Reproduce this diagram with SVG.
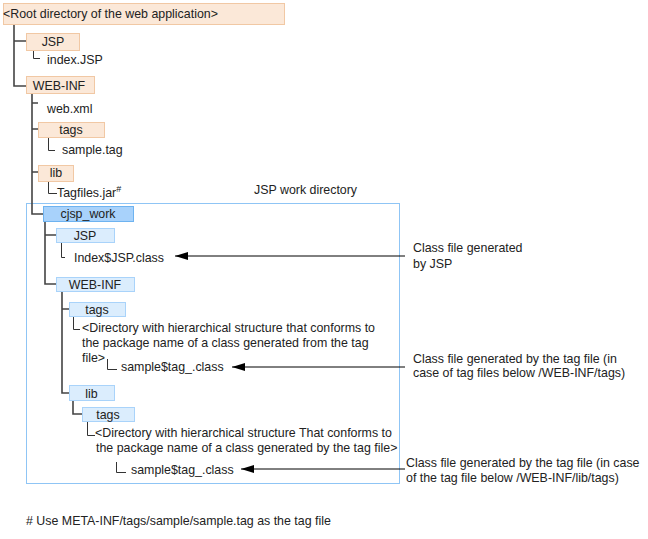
<svg xmlns="http://www.w3.org/2000/svg" width="648" height="539" viewBox="0 0 648 539">
<defs>
<marker id="ah" markerUnits="userSpaceOnUse" markerWidth="13" markerHeight="8" refX="13" refY="4" orient="auto">
<path d="M0,0 L13,4 L0,8 Z" fill="#000"/>
</marker>
<style>
text{font-family:"Liberation Sans",Arial,sans-serif;font-size:12.4px;fill:#222}
.m{text-anchor:middle}
.or{fill:#fbe8d8;stroke:#f1c8a4;stroke-width:1}
.bl{fill:#dbedfd;stroke:#a9d3fa;stroke-width:1}
.dk{fill:#a8d2fb;stroke:#6eb3f0;stroke-width:1}
.tr{fill:none;stroke:#444;stroke-width:1.6}
.lf{fill:none;stroke:#333;stroke-width:1}
.ar{fill:none;stroke:#000;stroke-width:1}
</style>
</defs>
<rect x="26.5" y="203.5" width="373" height="280" fill="none" stroke="#8fc5f5" stroke-width="1"/>
<g id="connectors">
<path class="tr" d="M14,24 V86 H26 M14,41 H26"/>
<path class="lf" d="M33.5,50 V58.5 H40"/>
<path class="tr" d="M32,94 V214 H43 M32,103 H38 M32,129 H38 M32,172 H38"/>
<path class="lf" d="M48.5,137 V150.5 H55 M48.5,181 V193.5 H57"/>
<path class="tr" d="M45,221 V284 H56 M45,235 H56"/>
<path class="lf" d="M61.5,242 V257.5 H65"/>
<path class="tr" d="M62,291 V393 H69 M62,309 H69"/>
<path class="lf" d="M73.5,316 V329.5 H80 M107.5,359 V369.5 H117"/>
<path class="tr" d="M73,400 V414 H82"/>
<path class="lf" d="M87.5,421 V435.5 H95 M116.5,462 V472.5 H126"/>
<line class="ar" x1="405" y1="256" x2="175" y2="256" marker-end="url(#ah)"/>
<line class="ar" x1="405" y1="367" x2="232" y2="367" marker-end="url(#ah)"/>
<line class="ar" x1="405" y1="469" x2="241" y2="469" marker-end="url(#ah)"/>
</g>
<g id="root"><rect class="or" x="3.5" y="3.5" width="281" height="21"/><text x="3" y="17.5">&lt;Root directory of the web application&gt;</text></g>
<g id="jsp"><rect class="or" x="26.5" y="33.5" width="53" height="17"/><text class="m" x="53" y="45.5">JSP</text></g>
<g id="indexjsp"><text x="47" y="63.5">index.JSP</text></g>
<g id="webinf"><rect class="or" x="26.5" y="76.5" width="68" height="17"/><text class="m" x="59" y="89.5">WEB-INF</text></g>
<g id="webxml"><text x="47" y="112.5">web.xml</text></g>
<g id="tags"><rect class="or" x="38.5" y="122.5" width="66" height="15"/><text class="m" x="71" y="133.5">tags</text></g>
<g id="sampletag"><text x="62" y="153.5">sample.tag</text></g>
<g id="lib"><rect class="or" x="38.5" y="165.5" width="35" height="16"/><text class="m" x="56" y="176.5">lib</text></g>
<g id="tagfiles"><text x="57" y="196.5">Tagfiles.jar<tspan font-size="9" dy="-5">#</tspan></text></g>
<g id="workdir-label"><text x="254" y="194">JSP work directory</text></g>
<g id="cjsp"><rect class="dk" x="43.5" y="206.5" width="90" height="15"/><text class="m" x="88" y="217.5">cjsp_work</text></g>
<g id="wjsp"><rect class="bl" x="56.5" y="228.5" width="58" height="14"/><text class="m" x="85" y="239.5">JSP</text></g>
<g id="indexclass"><text x="74" y="261.5">Index$JSP.class</text></g>
<g id="wwebinf"><rect class="bl" x="56.5" y="277.5" width="78" height="14"/><text class="m" x="95" y="288.5">WEB-INF</text></g>
<g id="wtags"><rect class="bl" x="69.5" y="302.5" width="56" height="14"/><text class="m" x="97" y="313.5">tags</text></g>
<g id="dir1"><text x="82" y="331.5">&lt;Directory with hierarchical structure that conforms to</text><text x="82" y="346.5">the package name of a class generated from the tag</text><text x="82" y="361.5">file&gt;</text></g>
<g id="sample1"><text x="121" y="370.5">sample$tag_.class</text></g>
<g id="wlib"><rect class="bl" x="69.5" y="385.5" width="45" height="15"/><text class="m" x="91.5" y="397.5">lib</text></g>
<g id="wlibtags"><rect class="bl" x="82.5" y="407.5" width="52" height="14"/><text class="m" x="108" y="418.5">tags</text></g>
<g id="dir2"><text x="95" y="436.5">&lt;Directory with hierarchical structure That conforms to</text><text x="96" y="451.5">the package name of a class generated by the tag file&gt;</text></g>
<g id="sample2"><text x="131" y="473.5">sample$tag_.class</text></g>
<g id="label1"><text x="413" y="251.5">Class file generated</text><text x="413" y="267.5">by JSP</text></g>
<g id="label2"><text x="413" y="362.5">Class file generated by the tag file (in</text><text x="413" y="376.5">case of tag files below /WEB-INF/tags)</text></g>
<g id="label3"><text x="406" y="466.5">Class file generated by the tag file (in case</text><text x="406" y="481.5">of the tag file below /WEB-INF/lib/tags)</text></g>
<g id="footnote"><text x="26" y="524.5"># Use META-INF/tags/sample/sample.tag as the tag file</text></g>
</svg>
